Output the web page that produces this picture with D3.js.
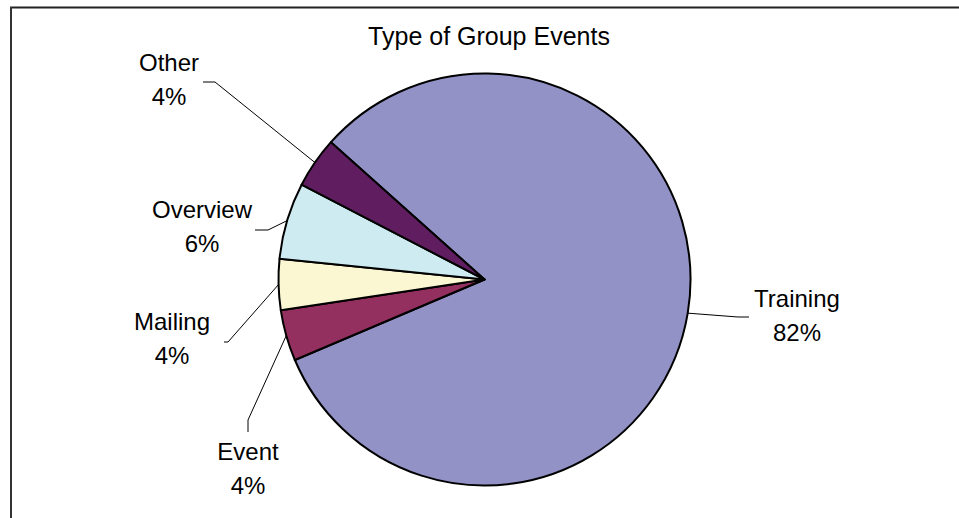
<!DOCTYPE html>
<html>
<head>
<meta charset="utf-8">
<script src="https://cdn.jsdelivr.net/npm/d3@7"></script>
<style>
  html, body { margin: 0; padding: 0; background: #fff; }
  svg { display: block; font-family: "Liberation Sans", Arial, sans-serif; }
</style>
</head>
<body>
<svg id="chart" width="959" height="518"></svg>
<script>
// Group event types, in clockwise order starting with Training
const categories = ["Training", "Event", "Mailing", "Overview", "Other"];
const shares = [82, 4, 4, 6, 4];               // percent of all group events
const sliceColors = ["#9292C6", "#94305F", "#FAF7D2", "#CDEBF0", "#601E60"];
const chartTitle = "Type of Group Events";

// Label placement: text block centre and the elbow of each leader line
const labelLayout = {
  Training: { x: 797, y: 315, elbow: [[738, 317], [749, 317]] },
  Event:    { x: 248, y: 468, elbow: [[248, 420], [248, 432]] },
  Mailing:  { x: 172, y: 338, elbow: [[228, 342], [224, 342]] },
  Overview: { x: 202, y: 226, elbow: [[268, 230], [255, 230]] },
  Other:    { x: 169, y: 79,  elbow: [[215, 82], [203, 82]] }
};

const W = 959, H = 518;
const cx = 484.5, cy = 279.5, radius = 206;
const svg = d3.select("#chart");

// Frame lines (top and left edges of the chart area)
svg.append("line").attr("x1", 10).attr("y1", 7.5).attr("x2", W).attr("y2", 7.5)
  .attr("stroke", "#222").attr("stroke-width", 2);
svg.append("line").attr("x1", 11).attr("y1", 7).attr("x2", 11).attr("y2", H)
  .attr("stroke", "#333").attr("stroke-width", 2);

// Title
svg.append("text").attr("x", 489).attr("y", 45).attr("text-anchor", "middle")
  .attr("font-size", 25).attr("fill", "#000").text(chartTitle);

const rows = categories.map((c, i) => ({ name: c, value: shares[i], color: sliceColors[i] }));

const start = -48.2 * Math.PI / 180;
const pie = d3.pie().sort(null).value(d => d.value)
  .startAngle(start).endAngle(start + 2 * Math.PI);
const arcs = pie(rows);
const arc = d3.arc().innerRadius(0).outerRadius(radius);

const g = svg.append("g").attr("transform", `translate(${cx},${cy})`);
g.selectAll("path.slice").data(arcs).join("path")
  .attr("class", "slice")
  .attr("d", arc)
  .attr("fill", d => d.data.color)
  .attr("stroke", "#000")
  .attr("stroke-width", 2)
  .attr("stroke-linejoin", "round");

// Leader lines: from the slice edge at its mid-angle to the label
const line = d3.line();
arcs.forEach(a => {
  const mid = (a.startAngle + a.endAngle) / 2;
  const p0 = [cx + radius * Math.sin(mid), cy - radius * Math.cos(mid)];
  const L = labelLayout[a.data.name];
  svg.append("path")
    .attr("d", line([p0, ...L.elbow]))
    .attr("fill", "none").attr("stroke", "#000").attr("stroke-width", 1);

  const t = svg.append("text").attr("text-anchor", "middle")
    .attr("font-size", 24).attr("fill", "#000");
  t.append("tspan").attr("x", L.x).attr("y", L.y - 8).text(a.data.name);
  t.append("tspan").attr("x", L.x).attr("y", L.y + 26).text(d3.format(".0f")(a.data.value) + "%");
});
</script>
</body>
</html>
